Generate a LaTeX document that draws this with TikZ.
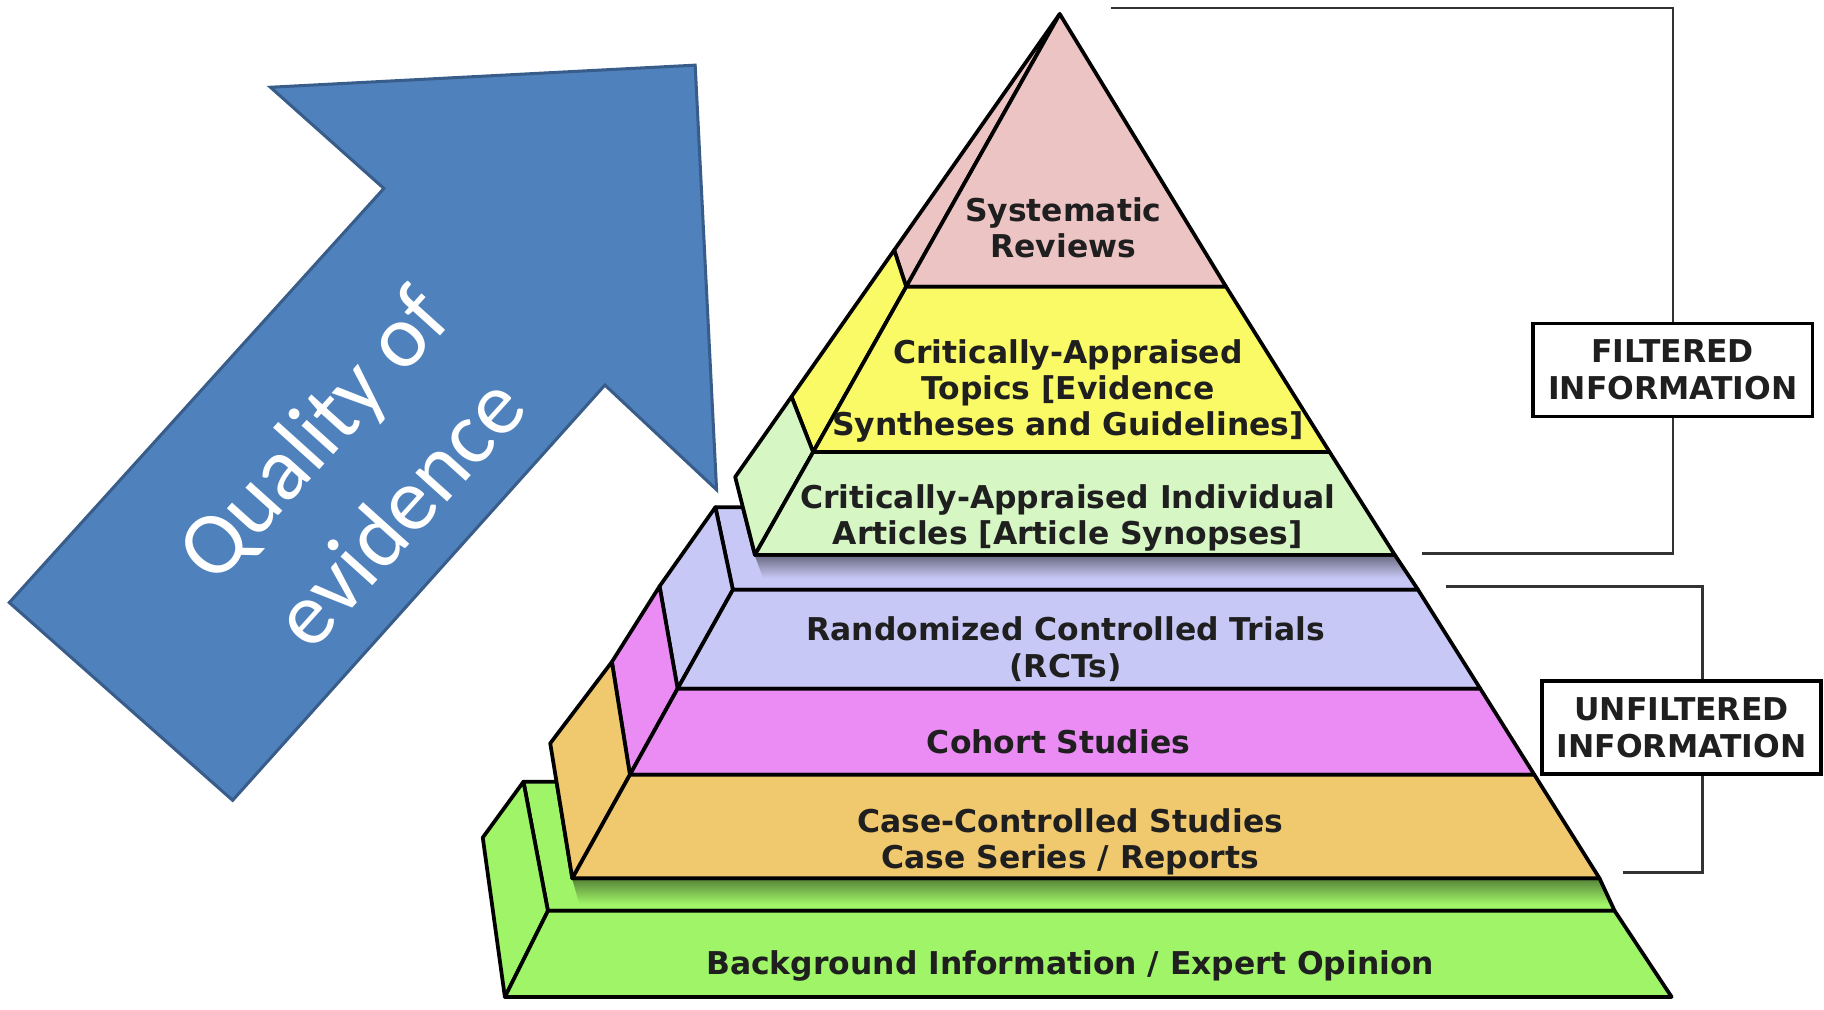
\documentclass[tikz,border=0pt]{standalone}
\usepackage{fontspec}
\setmainfont{DejaVu Sans}
\newfontfamily\arrowfont{Carlito}
\definecolor{srpink}{RGB}{236,196,196}
\definecolor{catyel}{RGB}{250,250,102}
\definecolor{caiagrn}{RGB}{214,246,196}
\definecolor{rctlav}{RGB}{200,200,246}
\definecolor{cohvio}{RGB}{234,140,244}
\definecolor{ccsorg}{RGB}{240,200,110}
\definecolor{bggrn}{RGB}{160,244,104}
\definecolor{arrowblue}{RGB}{79,129,189}
\definecolor{arrowedge}{RGB}{56,93,138}
\begin{document}
\begin{tikzpicture}[x=0.5pt,y=-0.5pt,
  face/.style={draw=black, line width=1.6pt, line join=round},
  lbl/.style={font=\fontsize{13.5}{15.5}\selectfont\bfseries, text=black!88, align=center, inner sep=0pt},
  infobox/.style={draw=black, line width=1.6pt, fill=white, minimum width=120pt, minimum height=40pt,
     font=\fontsize{13.5}{16}\selectfont\bfseries, text=black!88, align=center, inner sep=0pt},
  bracket/.style={draw=black!80, line width=1.1pt}]
\useasboundingbox (0,0) rectangle (1568,868);

% arrow
\draw[fill=arrowblue, draw=arrowedge, line width=1.3pt, line join=miter]
  (8,518) -- (330,162) -- (232.5,75) -- (597.6,56) -- (616,421) -- (520,331) -- (200,688) -- cycle;
\node[rotate=48, text=white, font=\arrowfont\fontsize{38.5}{50}\selectfont, align=center, inner sep=0pt]
  (qual) at (305,406) {Quality of\\evidence};

% ---------- bottom tier ----------
\fill[bggrn] (450,672) -- (478.5,672) -- (492,755) -- (1375,755) -- (1388,783) -- (471,783) -- cycle;
\shade[top color=bggrn!55!black, bottom color=bggrn] (492,756) -- (1375,756) -- (1385,777) -- (498,777) -- cycle;
\draw[face] (450,672) -- (478.5,672) -- (492,755) -- (1375,755) -- (1388,783) -- (471,783) -- cycle;
\draw[face, fill=bggrn] (450,672) -- (471,783) -- (434,857) -- (415,720) -- cycle;
\draw[face, fill=bggrn] (471,783) -- (1388,783) -- (1437,857) -- (434,857) -- cycle;

% ---------- middle tier ----------
\fill[rctlav] (615,436) -- (638.6,436) -- (649,477) -- (1199,477) -- (1219,507) -- (630,507) -- cycle;
\shade[top color=rctlav!55!black, bottom color=rctlav] (649,478) -- (1199,478) -- (1212,497) -- (656,497) -- cycle;
\draw[face] (615,436) -- (638.6,436) -- (649,477) -- (1199,477) -- (1219,507) -- (630,507) -- cycle;
\draw[face, fill=rctlav] (615,436) -- (630,507) -- (582.5,592) -- (567,504) -- cycle;
\draw[face, fill=cohvio] (567,504) -- (582.5,592) -- (541.5,666) -- (526,569) -- cycle;
\draw[face, fill=ccsorg] (526,569) -- (541.5,666) -- (492,755) -- (473,639) -- cycle;
\draw[face, fill=rctlav] (630,507) -- (1219,507) -- (1272.5,592) -- (582.5,592) -- cycle;
\draw[face, fill=cohvio] (582.5,592) -- (1272.5,592) -- (1319,666) -- (541.5,666) -- cycle;
\draw[face, fill=ccsorg] (541.5,666) -- (1319,666) -- (1375,755) -- (492,755) -- cycle;

% ---------- top tier ----------
\draw[face, fill=srpink] (911,12) -- (779,246.5) -- (768.7,215) -- cycle;
\draw[face, fill=catyel] (768.7,215) -- (779,246.5) -- (699,388.6) -- (680.4,341) -- cycle;
\draw[face, fill=caiagrn] (680.4,341) -- (699,388.6) -- (649,477) -- (632,410) -- cycle;
\draw[face, fill=srpink] (911,12) -- (1054,246.5) -- (779,246.5) -- cycle;
\draw[face, fill=catyel] (779,246.5) -- (1054,246.5) -- (1143,388.6) -- (699,388.6) -- cycle;
\draw[face, fill=caiagrn] (699,388.6) -- (1143,388.6) -- (1199,477) -- (649,477) -- cycle;

% ---------- labels ----------
\node[lbl] (sr) at (914,196) {Systematic\\Reviews};
\node[lbl] (cat) at (918,336) {Critically-Appraised\\Topics [Evidence\\Syntheses and Guidelines]};
\node[lbl] (caia) at (918,445) {Critically-Appraised Individual\\Articles [Article Synopses]};
\node[lbl] (rct) at (916,558) {Randomized Controlled Trials\\(RCTs)};
\node[lbl] (coh) at (910,638) {Cohort Studies};
\node[lbl] (ccs) at (920,724) {Case-Controlled Studies\\Case Series / Reports};
\node[lbl] (bg) at (920,830) {Background Information / Expert Opinion};

% ---------- brackets ----------
\coordinate (ftop) at (955,7);
\coordinate (fbot) at (1222,476);
\node[infobox] (filt) at (1438,318) {FILTERED\\INFORMATION};
\draw[bracket] (ftop) -| (filt.north);
\draw[bracket] (filt.south) |- (fbot);

\coordinate (utop) at (1243,504);
\coordinate (ubot) at (1395,750);
\node[infobox] (unf) at (1445.5,625.5) {UNFILTERED\\INFORMATION};
\draw[bracket] (utop) -| ([xshift=9pt]unf.north);
\draw[bracket] ([xshift=9pt]unf.south) |- (ubot);
\end{tikzpicture}
\end{document}
